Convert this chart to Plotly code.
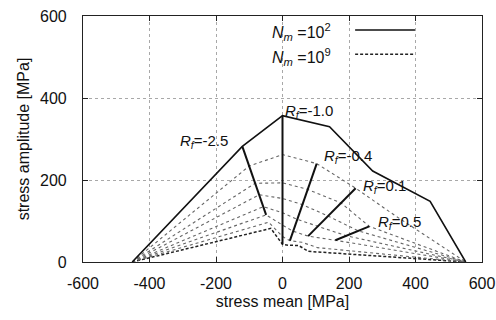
import plotly.graph_objects as go

# ---- data ----
stress_ratios = [-2.5, -1.0, -0.4, 0.1, 0.5]          # Rf rays where curves have vertices
cycles = ["1e2", "1e3", "1e4", "1e5", "1e6", "1e7", "1e8", "1e9"]
compressive_end = -452.0                               # x-intercept on the left (MPa)
tensile_end = 551.0                                    # x-intercept on the right (MPa)

amp_1e2 = [282, 357, 330, 222, 148]
amp_1e3 = [234, 262, 240, 180, 113]
amp_1e4 = [192, 193, 177, 144, 87]
amp_1e5 = [164, 155, 140, 112, 76]
amp_1e6 = [135, 120, 104, 87, 64]
amp_1e7 = [115, 90, 75, 63, 53]
amp_1e8 = [97, 62, 52, 48, 35]
amp_1e9 = [82, 43, 41, 40, 26]
amplitudes = [amp_1e2, amp_1e3, amp_1e4, amp_1e5, amp_1e6, amp_1e7, amp_1e8, amp_1e9]

# experimental Rf segments: (ratio index, top curve index, bottom curve index)
rf_labels = ["-2.5", "-1.0", "-0.4", "0.1", "0.5"]
rf_top_curve = [0, 0, 1, 1, 2]
rf_bottom_curve = [5, 7, 6, 5, 5]
rf_label_x = [-313, 2, 120, 235, 280]
rf_label_y = [294, 367, 257, 184, 96]

x_ticks = [-600, -400, -200, 0, 200, 400, 600]
y_ticks = [0, 200, 400, 600]


def mean_from_amp(a, r):
    return a * (1 + r) / (1 - r)


fig = go.Figure()

styles = []
for i in range(len(cycles)):
    if i == 0:
        styles.append(dict(color="#111111", width=1.6, dash="solid"))
    elif i == len(cycles) - 1:
        styles.append(dict(color="#222222", width=1.5, dash="3px,2px"))
    else:
        styles.append(dict(color="#666666", width=1.1, dash="dot"))

for i in reversed(range(len(cycles))):
    amps = amplitudes[i]
    xs = [compressive_end] + [mean_from_amp(a, r) for a, r in zip(amps, stress_ratios)] + [tensile_end]
    ys = [0] + list(amps) + [0]
    fig.add_trace(go.Scatter(x=xs, y=ys, mode="lines", line=styles[i],
                             showlegend=False, hoverinfo="skip"))

# Rf segments
for k, r in enumerate(stress_ratios):
    a_top = amplitudes[rf_top_curve[k]][k]
    a_bot = amplitudes[rf_bottom_curve[k]][k]
    fig.add_trace(go.Scatter(x=[mean_from_amp(a_top, r), mean_from_amp(a_bot, r)],
                             y=[a_top, a_bot], mode="lines",
                             line=dict(color="#111111", width=2),
                             showlegend=False, hoverinfo="skip"))
    fig.add_annotation(x=rf_label_x[k], y=rf_label_y[k], xref="x", yref="y",
                       text="<i>R</i><sub><i>f</i></sub>=" + rf_labels[k],
                       showarrow=False, xanchor="left", yanchor="middle",
                       font=dict(size=15, color="#111111"))

# legend (text left, line sample right)
leg_texts = ["<i>N</i><sub><i>m</i></sub> =10<sup>2</sup>", "<i>N</i><sub><i>m</i></sub> =10<sup>9</sup>"]
leg_y = [0.933, 0.835]
leg_style = [styles[0], styles[-1]]
for t, yy, st in zip(leg_texts, leg_y, leg_style):
    fig.add_annotation(x=0.627, y=yy, xref="paper", yref="paper", text=t,
                       showarrow=False, xanchor="right", yanchor="middle",
                       font=dict(size=16, color="#111111"))
    fig.add_shape(type="line", xref="paper", yref="paper", x0=0.682, x1=0.832,
                  y0=yy + 0.01, y1=yy + 0.01, line=st)

axis_common = dict(
    showline=True, linecolor="#222222", linewidth=1.2, mirror="allticks",
    ticks="inside", ticklen=5, tickcolor="#222222",
    showgrid=True, gridcolor="#a8a8a8", griddash="dot", gridwidth=1,
    zeroline=False, tickfont=dict(size=16, color="#111111"),
)

fig.update_xaxes(range=[-600, 600], tickvals=x_ticks, ticktext=[str(v) for v in x_ticks],
                 ticklabelstandoff=7,
                 title=dict(text="stress mean [MPa]", font=dict(size=16, color="#111111"), standoff=4),
                 **axis_common)
fig.update_yaxes(range=[0, 600], tickvals=y_ticks, ticktext=[str(v) for v in y_ticks],
                 ticklabelstandoff=12,
                 title=dict(text="stress amplitude [MPa]", font=dict(size=16, color="#111111"), standoff=6),
                 **axis_common)

fig.update_layout(
    width=496, height=320,
    margin=dict(l=83, r=14, t=16, b=58, autoexpand=False),
    paper_bgcolor="white", plot_bgcolor="white",
    font=dict(family="Liberation Sans, Arial, sans-serif", size=16, color="#111111"),
    showlegend=False,
)

fig.write_html("out.html", config={"displayModeBar": False})
